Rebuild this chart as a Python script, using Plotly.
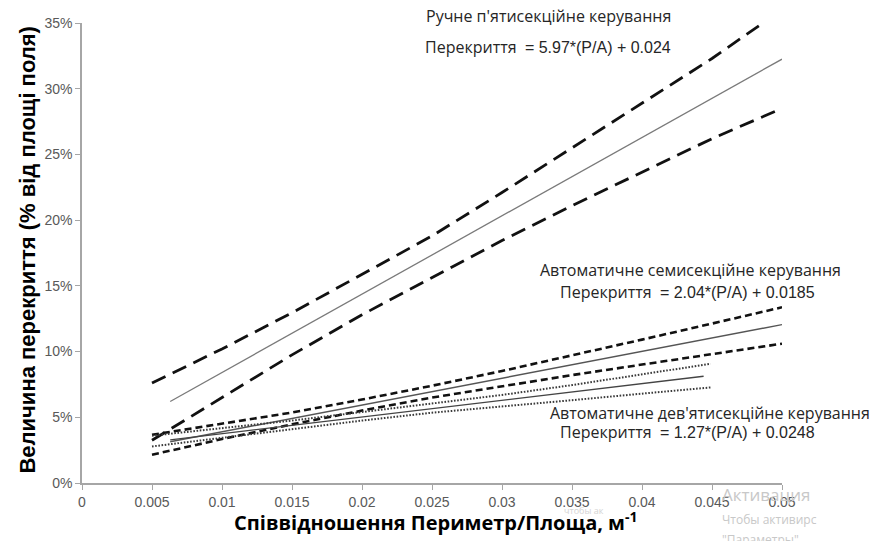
import plotly.graph_objects as go

# ---------------- data (fractions of field area) ----------------
manual_center_x = [0.0063, 0.05]
manual_center_y = [0.062, 0.3225]
manual_upper_x = [0.005, 0.01, 0.015, 0.02, 0.025, 0.03, 0.035, 0.04, 0.045, 0.0485]
manual_upper_y = [0.076, 0.102, 0.1295, 0.1585, 0.188, 0.221, 0.255, 0.289, 0.323, 0.349]
manual_lower_x = [0.005, 0.01, 0.015, 0.02, 0.025, 0.03, 0.035, 0.04, 0.045, 0.05]
manual_lower_y = [0.0325, 0.065, 0.0975, 0.128, 0.1565, 0.1845, 0.211, 0.2365, 0.262, 0.285]

seven_center_x = [0.0063, 0.05]
seven_center_y = [0.0314, 0.1205]
seven_band_x = [0.005, 0.01, 0.015, 0.02, 0.025, 0.03, 0.035, 0.04, 0.045, 0.05]
seven_upper_y = [0.0367, 0.0449, 0.0536, 0.0635, 0.074, 0.0852, 0.0969, 0.1091, 0.1213, 0.1337]
seven_lower_y = [0.0215, 0.0334, 0.0446, 0.0551, 0.065, 0.0737, 0.0821, 0.0901, 0.0981, 0.106]

nine_center_x = [0.0063, 0.0444]
nine_center_y = [0.0328, 0.0812]
nine_band_x = [0.005, 0.01, 0.015, 0.02, 0.025, 0.03, 0.035, 0.04, 0.0449]
nine_upper_y = [0.036, 0.0415, 0.0475, 0.054, 0.0605, 0.067, 0.0745, 0.0825, 0.0907]
nine_lower_y = [0.0278, 0.0345, 0.041, 0.0475, 0.0535, 0.058, 0.063, 0.068, 0.0727]

x_ticks = [0, 0.005, 0.01, 0.015, 0.02, 0.025, 0.03, 0.035, 0.04, 0.045, 0.05]
x_tick_labels = ["0", "0.005", "0.01", "0.015", "0.02", "0.025", "0.03", "0.035", "0.04", "0.045", "0.05"]
y_ticks = [0, 0.05, 0.10, 0.15, 0.20, 0.25, 0.30, 0.35]

fig = go.Figure()

def add(x, y, color, width, dash):
    fig.add_trace(go.Scatter(x=x, y=y, mode="lines", showlegend=False, hoverinfo="skip",
                             line=dict(color=color, width=width, dash=dash)))

# manual 5-section
add(manual_upper_x, manual_upper_y, "#111111", 2.8, "15px,8px")
add(manual_center_x, manual_center_y, "#7a7a7a", 1.3, "solid")
add(manual_lower_x, manual_lower_y, "#111111", 2.8, "15px,8px")
# automatic 7-section
add(seven_band_x, seven_upper_y, "#111111", 2.6, "7px,4px")
add(seven_center_x, seven_center_y, "#555555", 1.4, "solid")
add(seven_band_x, seven_lower_y, "#111111", 2.6, "7px,4px")
# automatic 9-section
add(nine_band_x, nine_upper_y, "#3a3a3a", 2.0, "1.6px,1.6px")
add(nine_center_x, nine_center_y, "#444444", 1.4, "solid")
add(nine_band_x, nine_lower_y, "#3a3a3a", 2.0, "1.6px,1.6px")

txt_font = dict(family="Open Sans", size=16, color="#262626")
NB = "\u00a0"

def ann(text, x, y, font, xanchor="center", **kw):
    fig.add_annotation(text=text, x=x, y=y, xref="paper", yref="paper", showarrow=False,
                       xanchor=xanchor, yanchor="middle", font=font, **kw)

def eq(s):
    return "Перекриття" + NB + NB + "<span style='font-family:Liberation Sans'>" + s + "</span>"

ann("Ручне п'ятисекційне керування", 0.667, 1.015, txt_font)
ann(eq("= 5.97*(P/A) + 0.024"), 0.666, 0.948, txt_font)
ann("Автоматичне семисекційне керування", 0.8686, 0.4634, txt_font)
ann(eq("= 2.04*(P/A) + 0.0185"), 0.8647, 0.4156, txt_font)
ann("Автоматичне дев'ятисекційне керування", 0.8969, 0.1527, txt_font)
ann(eq("= 1.27*(P/A) + 0.0248"), 0.8654, 0.1115, txt_font)

# axis titles
ann("<b>Величина перекриття (% від площі поля)</b>", -0.0775, 0.507,
    dict(family="Liberation Sans, Arial", size=22, color="black"), textangle=-90)
ann("<b>Співвідношення Периметр/Площа, м<sup>-1</sup></b>", 0.506, -0.084,
    dict(family="Open Sans", size=20, color="black"))

# faint OS watermark visible in the reference
wm = dict(family="Open Sans", color="#c8c8c8")
ann("Активация", 0.911, -0.025, dict(size=17, **wm), xanchor="left")
ann("Чтобы активирс", 0.911, -0.08, dict(size=12, **wm), xanchor="left")
ann("\"Параметры\"", 0.911, -0.122, dict(size=12, **wm), xanchor="left")
ann("чтобы ак", 0.685, -0.06, dict(size=9, family="Open Sans", color="#d4d4d4"), xanchor="left")

axis_common = dict(showgrid=False, zeroline=False, showline=True, linecolor="#a6a6a6",
                   linewidth=1.5, ticks="outside", ticklen=5, tickcolor="#a6a6a6",
                   tickfont=dict(family="Liberation Sans, Arial", size=14, color="#595959"))

fig.update_layout(
    width=875, height=541,
    margin=dict(l=82, r=93, t=23, b=58),
    paper_bgcolor="white", plot_bgcolor="white",
    xaxis=dict(range=[0, 0.05], tickvals=x_ticks, ticktext=x_tick_labels, **axis_common),
    yaxis=dict(range=[0, 0.35], tickvals=y_ticks, tickformat=".0%", **axis_common),
)

fig.write_html("out.html")
